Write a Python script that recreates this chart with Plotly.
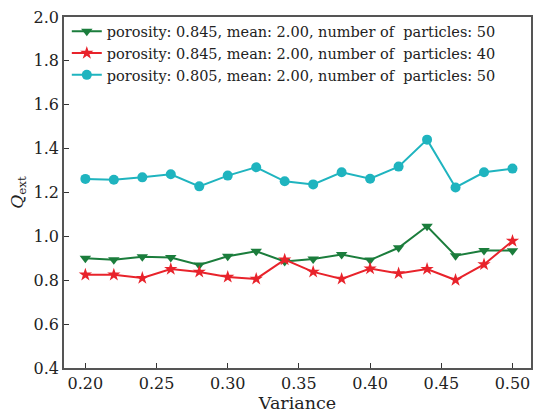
import plotly.graph_objects as go

variance = [0.20, 0.22, 0.24, 0.26, 0.28, 0.30, 0.32, 0.34, 0.36, 0.38, 0.40, 0.42, 0.44, 0.46, 0.48, 0.50]
q_845_50 = [0.900, 0.894, 0.907, 0.904, 0.870, 0.909, 0.932, 0.886, 0.897, 0.917, 0.892, 0.948, 1.046, 0.912, 0.936, 0.935]
q_845_40 = [0.825, 0.825, 0.810, 0.851, 0.838, 0.815, 0.806, 0.894, 0.838, 0.806, 0.853, 0.831, 0.851, 0.801, 0.872, 0.979]
q_805_50 = [1.262, 1.258, 1.269, 1.283, 1.228, 1.277, 1.315, 1.251, 1.237, 1.292, 1.263, 1.318, 1.441, 1.223, 1.292, 1.309]

names = [
    "porosity: 0.845, mean: 2.00, number of  particles: 50",
    "porosity: 0.845, mean: 2.00, number of  particles: 40",
    "porosity: 0.805, mean: 2.00, number of  particles: 50",
]
colors = ["#1b7d3c", "#e8232b", "#1fb4bf"]
symbols = ["triangle-down", "star", "circle"]
sizes = [10, 10, 10]
series = [q_845_50, q_845_40, q_805_50]

font = "DejaVu Serif"
fig = go.Figure()
for ys, nm, c, s, sz in zip(series, names, colors, symbols, sizes):
    fig.add_trace(go.Scatter(
        x=variance, y=ys, name=nm, mode="lines+markers",
        line=dict(color=c, width=2),
        marker=dict(symbol=s, size=sz, color=c, line=dict(width=0)),
    ))

axis_common = dict(
    showline=True, linecolor="#555555", linewidth=1.5, mirror=True,
    ticks="inside", ticklen=5, tickcolor="#333333", showgrid=False, zeroline=False,
    tickfont=dict(family=font, size=16, color="#222222"),
)
fig.update_layout(
    width=534, height=413,
    margin=dict(l=64, r=1, t=17, b=45),
    paper_bgcolor="white", plot_bgcolor="white",
    font=dict(family=font, color="#222222"),
    showlegend=True,
    legend=dict(x=0.006, y=1.005, xanchor="left", yanchor="top",
                bgcolor="rgba(0,0,0,0)", font=dict(family=font, size=14.5, color="#222222"),
                tracegroupgap=0, itemwidth=30),
    xaxis=dict(range=[0.185, 0.513], tickvals=[0.20, 0.25, 0.30, 0.35, 0.40, 0.45, 0.50],
               ticktext=["0.20", "0.25", "0.30", "0.35", "0.40", "0.45", "0.50"],
               title=dict(text="Variance", font=dict(family=font, size=17.5), standoff=2),
               **axis_common),
    yaxis=dict(range=[0.4, 2.0], tickvals=[0.4, 0.6, 0.8, 1.0, 1.2, 1.4, 1.6, 1.8, 2.0],
               ticktext=["0.4", "0.6", "0.8", "1.0", "1.2", "1.4", "1.6", "1.8", "2.0"],
               title=dict(text="<i>Q</i><sub>ext</sub>", font=dict(family=font, size=17), standoff=6),
               **axis_common),
)
fig.write_html("out.html")
